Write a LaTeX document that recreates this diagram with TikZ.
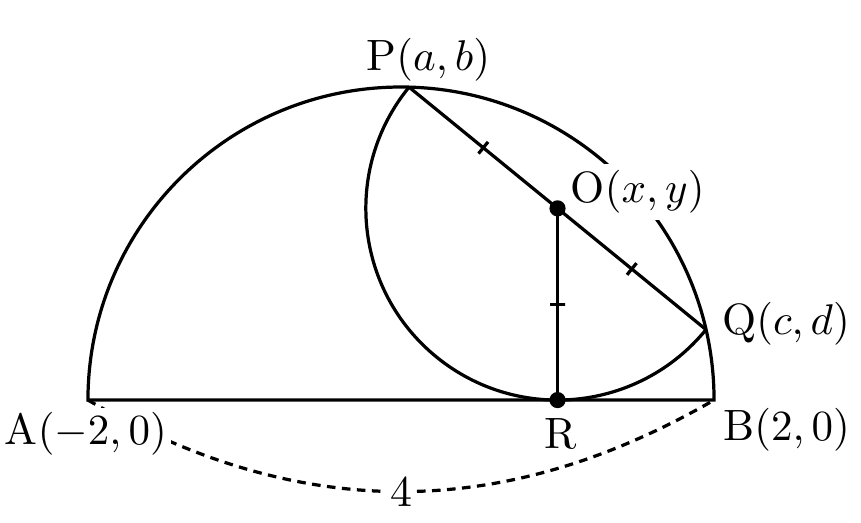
\documentclass[tikz,border=0pt]{standalone}
\usetikzlibrary{calc}
\begin{document}
\begin{tikzpicture}[x=1.28cm,y=1.28cm,line width=0.75pt,font=\fontsize{10.2}{12}\selectfont,
  segmark/.style={draw,sloped,inner sep=0pt,minimum height=3.5pt,minimum width=0pt},
  dimline/.style={dash pattern=on 2pt off 1.5pt}]
\useasboundingbox (-2.562,-0.780) rectangle (2.939,2.556);

%Semicerchio di raggio 2

\begin{scope}
\coordinate (o) at (0,0);
\coordinate (a) at (-2,0);
\coordinate (b) at (2,0);
\coordinate (r) at (1,0);
\coordinate (c) at (1,{sqrt(1.5)});
\path (c) -- +(140.77:{sqrt(1.5)}) coordinate (p);
\path (c) -- +(-39.23:{sqrt(1.5)}) coordinate (q);

\draw (b) arc[start angle=0,end angle=180,radius=2] -- cycle;

\draw[dimline] (a) to[bend right=30] node[fill=white,inner sep=1pt] (l4) {4} (b);

\node[below=1.5pt,xshift=-0.5pt,inner sep=1pt,fill=white] (la) at (a) {A$(-2,0)$};
\node[below right,xshift=0.8pt,yshift=-0.5pt,inner sep=1pt] (lb) at (b) {B$(2,0)$};
\node[below=0.6pt,xshift=0.8pt] (lr) at (r) {R};
\node[right=1.2pt,yshift=3.9pt,fill=white,inner sep=1.5pt] (lc) at (c) {O$(x,y)$};
\end{scope}

%Cerchio di diametro PQ

\begin{scope}
\draw (p) -- (q);
\draw (c) -- (r);
\draw (p) arc[start angle=140.77,end angle=320.77,radius={sqrt(1.5)}];

\path (p) -- (c) node[midway,segmark] (t1) {};
\path (c) -- (q) node[midway,segmark] (t2) {};
\path (c) -- (r) node[midway,segmark] (t3) {};

\draw[fill] (c) circle (1.5pt);
\draw[fill] (r) circle (1.5pt);

\node[above,xshift=4.5pt,inner sep=1pt] (lp) at (p) {P$(a,b)$};
\node[right=2.4pt,yshift=1.3pt,inner sep=1pt] (lq) at (q) {Q$(c,d)$};
\end{scope}

\end{tikzpicture}
\end{document}
